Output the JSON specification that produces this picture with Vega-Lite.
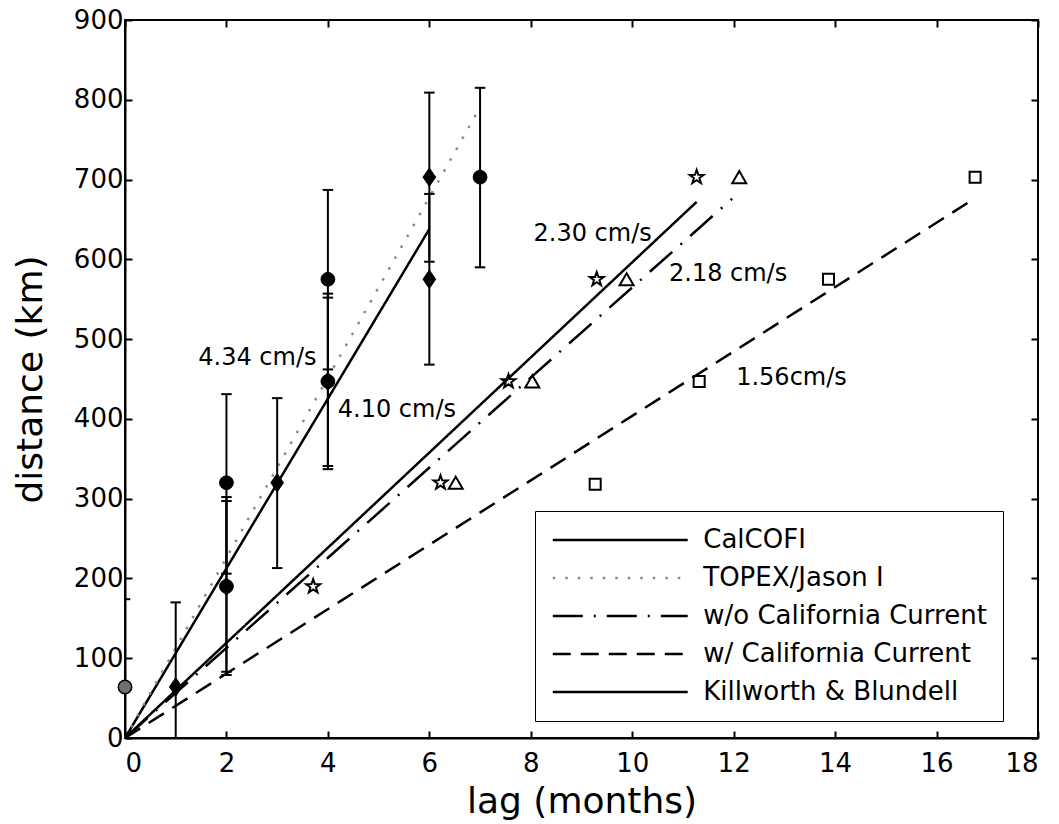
{
  "$schema": "https://vega.github.io/schema/vega-lite/v6.json",
  "width": 913,
  "height": 718,
  "autosize": {"type": "none"},
  "padding": {"left": 125, "top": 20, "right": 21, "bottom": 86},
  "background": "white",
  "config": {
    "view": {"stroke": "black", "strokeWidth": 2},
    "font": "DejaVu Sans",
    "axis": {
      "grid": false,
      "domainColor": "black",
      "domainWidth": 2,
      "tickColor": "black",
      "tickWidth": 2,
      "tickSize": -7,
      "labelFont": "DejaVu Sans",
      "labelFontSize": 26,
      "labelColor": "black",
      "titleFont": "DejaVu Sans",
      "titleFontSize": 36,
      "titleFontWeight": "normal",
      "titleColor": "black"
    },
    "legend": {
      "strokeColor": "black",
      "fillColor": "white",
      "padding": 16,
      "symbolType": "M-6,0H6",
      "symbolSize": 506,
      "symbolStrokeWidth": 2.5,
      "symbolOffset": 56.25,
      "labelOffset": 70,
      "labelLimit": 500,
      "labelFont": "DejaVu Sans",
      "labelFontSize": 26,
      "labelColor": "black",
      "rowPadding": 12
    }
  },
  "datasets": {
    "fits": [
      {"series": "CalCOFI", "lag": 0, "distance": 0},
      {"series": "CalCOFI", "lag": 6, "distance": 638},
      {"series": "TOPEX/Jason I", "lag": 0, "distance": 0},
      {"series": "TOPEX/Jason I", "lag": 6.95, "distance": 785},
      {"series": "w/o California Current", "lag": 0, "distance": 0},
      {"series": "w/o California Current", "lag": 11.97, "distance": 676},
      {"series": "w/ California Current", "lag": 0, "distance": 0},
      {"series": "w/ California Current", "lag": 16.67, "distance": 673},
      {"series": "Killworth & Blundell", "lag": 0, "distance": 0},
      {"series": "Killworth & Blundell", "lag": 11.27, "distance": 672}
    ],
    "obs": [
      {"marker": "diamond", "lag": 1, "distance": 64, "lower": -43, "upper": 170},
      {"marker": "diamond", "lag": 2, "distance": 190, "lower": 83, "upper": 297},
      {"marker": "diamond", "lag": 3, "distance": 320, "lower": 213, "upper": 426},
      {"marker": "diamond", "lag": 4, "distance": 447, "lower": 341, "upper": 552},
      {"marker": "diamond", "lag": 6, "distance": 575, "lower": 468, "upper": 682},
      {"marker": "diamond", "lag": 6, "distance": 703, "lower": 597, "upper": 809},
      {"marker": "circle", "lag": 2, "distance": 190, "lower": 79, "upper": 302},
      {"marker": "circle", "lag": 2, "distance": 320, "lower": 206, "upper": 431},
      {"marker": "circle", "lag": 4, "distance": 447, "lower": 337, "upper": 557},
      {"marker": "circle", "lag": 4, "distance": 575, "lower": 462, "upper": 687},
      {"marker": "circle", "lag": 7, "distance": 703, "lower": 590, "upper": 815},
      {"marker": "initial", "lag": 0, "distance": 64, "lower": -46, "upper": 174},
      {"marker": "star", "lag": 3.71, "distance": 190},
      {"marker": "star", "lag": 6.22, "distance": 320},
      {"marker": "star", "lag": 7.56, "distance": 447},
      {"marker": "star", "lag": 9.3, "distance": 575},
      {"marker": "star", "lag": 11.27, "distance": 703},
      {"marker": "triangle", "lag": 6.52, "distance": 320},
      {"marker": "triangle", "lag": 8.03, "distance": 447},
      {"marker": "triangle", "lag": 9.89, "distance": 575},
      {"marker": "triangle", "lag": 12.11, "distance": 703},
      {"marker": "square", "lag": 9.27, "distance": 318},
      {"marker": "square", "lag": 11.32, "distance": 447},
      {"marker": "square", "lag": 13.87, "distance": 575},
      {"marker": "square", "lag": 16.76, "distance": 703}
    ],
    "notes": [
      {"label": "4.34 cm/s", "lag": 2.61, "distance": 476},
      {"label": "4.10 cm/s", "lag": 5.36, "distance": 411},
      {"label": "2.30 cm/s", "lag": 9.22, "distance": 632},
      {"label": "2.18 cm/s", "lag": 11.89, "distance": 582},
      {"label": "1.56cm/s", "lag": 13.14, "distance": 451}
    ]
  },
  "layer": [
    {
      "data": {"name": "fits"},
      "mark": {"type": "point", "opacity": 0},
      "encoding": {
        "x": {"field": "lag", "type": "quantitative",
              "axis": {"orient": "top", "labels": false, "title": null, "domain": false, "values": [0, 2, 4, 6, 8, 10, 12, 14, 16, 18]}},
        "y": {"field": "distance", "type": "quantitative",
              "axis": {"orient": "right", "labels": false, "title": null, "domain": false, "values": [0, 100, 200, 300, 400, 500, 600, 700, 800, 900]}}
      }
    },
    {
      "data": {"name": "fits"},
      "mark": {"type": "line", "strokeWidth": 2.5},
      "encoding": {
        "x": {"field": "lag", "type": "quantitative",
              "scale": {"domain": [0, 18], "nice": false, "zero": false},
              "axis": {"orient": "bottom", "title": "lag (months)", "values": [0, 2, 4, 6, 8, 10, 12, 14, 16, 18], "labelPadding": 19, "titlePadding": 8}},
        "y": {"field": "distance", "type": "quantitative",
              "scale": {"domain": [0, 900], "nice": false, "zero": false},
              "axis": {"orient": "left", "title": "distance (km)", "values": [0, 100, 200, 300, 400, 500, 600, 700, 800, 900], "labelPadding": 9, "titlePadding": 24}},
        "color": {"field": "series", "type": "nominal",
                  "scale": {"domain": ["CalCOFI", "TOPEX/Jason I", "w/o California Current", "w/ California Current", "Killworth & Blundell"],
                            "range": ["black", "#8a8a8a", "black", "black", "black"]},
                  "legend": {"title": null, "orient": "none", "legendX": 410, "legendY": 491}},
        "strokeDash": {"field": "series", "type": "nominal",
                  "scale": {"domain": ["CalCOFI", "TOPEX/Jason I", "w/o California Current", "w/ California Current", "Killworth & Blundell"],
                            "range": [[1, 0], [2.5, 10], [30, 11, 2, 11], [18, 10], [1, 0]]},
                  "legend": {"title": null, "orient": "none", "legendX": 410, "legendY": 491}}
      }
    },
    {
      "data": {"name": "obs"},
      "transform": [{"filter": "isValid(datum.upper)"}],
      "mark": {"type": "rule", "color": "black", "strokeWidth": 2, "clip": true},
      "encoding": {
        "x": {"field": "lag", "type": "quantitative", "axis": null},
        "y": {"field": "lower", "type": "quantitative", "axis": null},
        "y2": {"field": "upper"}
      }
    },
    {
      "data": {"name": "obs"},
      "transform": [{"filter": "isValid(datum.upper)"}, {"fold": ["lower", "upper"], "as": ["end", "cap"]}],
      "mark": {"type": "point", "shape": "stroke", "size": 110, "stroke": "black", "strokeWidth": 2, "opacity": 1, "clip": true},
      "encoding": {
        "x": {"field": "lag", "type": "quantitative", "axis": null},
        "y": {"field": "cap", "type": "quantitative", "axis": null}
      }
    },
    {
      "data": {"name": "obs"},
      "transform": [{"filter": "datum.marker == 'diamond'"}],
      "mark": {"type": "point", "shape": "M0,-1.3L0.9,0L0,1.3L-0.9,0Z", "size": 200, "filled": true, "fill": "black", "stroke": "black", "strokeWidth": 1, "opacity": 1},
      "encoding": {
        "x": {"field": "lag", "type": "quantitative", "axis": null},
        "y": {"field": "distance", "type": "quantitative", "axis": null}
      }
    },
    {
      "data": {"name": "obs"},
      "transform": [{"filter": "datum.marker == 'circle'"}],
      "mark": {"type": "point", "shape": "circle", "size": 190, "filled": true, "fill": "black", "stroke": "black", "strokeWidth": 1, "opacity": 1},
      "encoding": {
        "x": {"field": "lag", "type": "quantitative", "axis": null},
        "y": {"field": "distance", "type": "quantitative", "axis": null}
      }
    },
    {
      "data": {"name": "obs"},
      "transform": [{"filter": "datum.marker == 'initial'"}],
      "mark": {"type": "point", "shape": "circle", "size": 180, "filled": true, "fill": "#707070", "stroke": "black", "strokeWidth": 1.5, "opacity": 1},
      "encoding": {
        "x": {"field": "lag", "type": "quantitative", "axis": null},
        "y": {"field": "distance", "type": "quantitative", "axis": null}
      }
    },
    {
      "data": {"name": "obs"},
      "transform": [{"filter": "datum.marker == 'star'"}],
      "mark": {"type": "point", "shape": "M0,-1L0.235,-0.324L0.951,-0.309L0.38,0.124L0.588,0.809L0,0.4L-0.588,0.809L-0.38,0.124L-0.951,-0.309L-0.235,-0.324Z", "size": 216, "filled": false, "fill": "transparent", "stroke": "black", "strokeWidth": 2, "opacity": 1},
      "encoding": {
        "x": {"field": "lag", "type": "quantitative", "axis": null},
        "y": {"field": "distance", "type": "quantitative", "axis": null}
      }
    },
    {
      "data": {"name": "obs"},
      "transform": [{"filter": "datum.marker == 'triangle'"}],
      "mark": {"type": "point", "shape": "triangle-up", "size": 196, "filled": false, "fill": "transparent", "stroke": "black", "strokeWidth": 2, "opacity": 1},
      "encoding": {
        "x": {"field": "lag", "type": "quantitative", "axis": null},
        "y": {"field": "distance", "type": "quantitative", "axis": null}
      }
    },
    {
      "data": {"name": "obs"},
      "transform": [{"filter": "datum.marker == 'square'"}],
      "mark": {"type": "point", "shape": "square", "size": 121, "filled": false, "fill": "transparent", "stroke": "black", "strokeWidth": 2, "opacity": 1},
      "encoding": {
        "x": {"field": "lag", "type": "quantitative", "axis": null},
        "y": {"field": "distance", "type": "quantitative", "axis": null}
      }
    },
    {
      "data": {"name": "notes"},
      "mark": {"type": "text", "font": "DejaVu Sans", "fontSize": 24, "color": "black", "align": "center", "baseline": "middle"},
      "encoding": {
        "x": {"field": "lag", "type": "quantitative", "axis": null},
        "y": {"field": "distance", "type": "quantitative", "axis": null},
        "text": {"field": "label", "type": "nominal"}
      }
    }
  ]
}
